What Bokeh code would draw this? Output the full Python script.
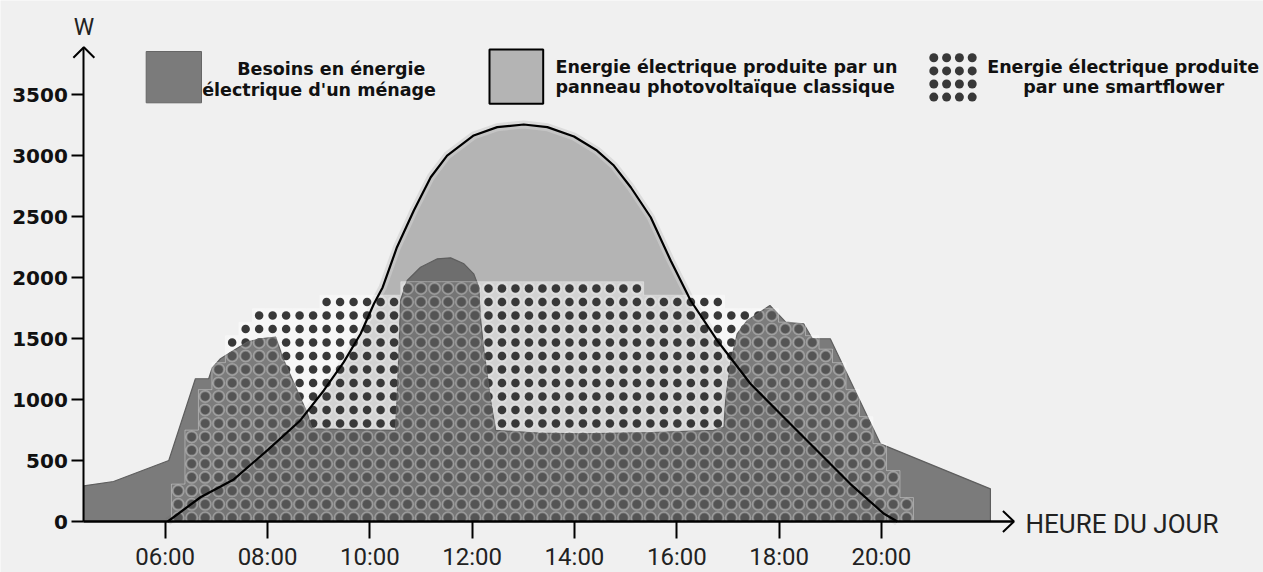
from bokeh.plotting import figure
from bokeh.models import Range1d, FixedTicker, Label
from bokeh.embed import file_html
from bokeh.resources import INLINE

# ---------------- data ----------------
# household electricity demand (hour of day, W)
demand_hour = [4.41, 4.99, 6.07, 6.59, 6.85, 6.92, 7.08, 7.28, 7.60, 7.86, 8.16, 8.32,
               8.58, 8.78, 8.87, 10.50, 10.53, 10.57, 10.60, 10.73, 10.99, 11.32, 11.58,
               11.84, 12.03, 12.13, 12.16, 12.23, 12.36, 12.46, 13.30, 14.12, 15.50, 16.72,
               16.92, 16.96, 17.06, 17.18, 17.38, 17.82, 18.13, 18.48, 18.65, 19.00, 19.98,
               22.13]
demand_watt = [293, 328, 500, 1171, 1171, 1261, 1335, 1389, 1471, 1499, 1512, 1321,
               1075, 884, 760, 747, 993, 1403, 1813, 1977, 2086, 2155, 2163,
               2114, 2032, 1922, 1676, 1403, 993, 747, 725, 719, 730, 747,
               774, 1020, 1321, 1540, 1649, 1772, 1635, 1622, 1499, 1499, 637,
               268]

# classic photovoltaic panel production (hour of day, W)
pv_hour = [6.05, 6.69, 7.34, 7.99, 8.64, 9.10, 9.49, 9.82, 10.08, 10.25, 10.53, 10.86,
           11.19, 11.51, 12.03, 12.49, 13.01, 13.47, 13.99, 14.44, 14.77, 15.10, 15.49,
           15.88, 16.27, 16.79, 17.44, 18.09, 18.74, 19.39, 20.05, 20.31]
pv_watt = [0, 199, 345, 582, 829, 1075, 1307, 1540, 1786, 1920, 2250, 2551,
           2824, 3002, 3167, 3235, 3257, 3235, 3158, 3043, 2920, 2742, 2496,
           2141, 1813, 1485, 1130, 856, 582, 309, 63, 0]

# smartflower production drawn as a dot matrix: number of dot rows per time slot
sf_first_slot_hour = 6.254
sf_slot_hours = 0.2637
sf_row_watts = 110.7
sf_first_row_watt = 30
sf_dot_rows = [3, 7, 10, 12, 14, 15, 16, 16, 16, 16, 16, 17, 17, 17, 17, 17, 17,
               18, 18, 18, 18, 18, 18, 18, 18, 18, 18, 18, 18, 18, 18, 18, 18, 18, 18,
               17, 17, 17, 17, 17, 17, 16, 16, 16, 16, 15, 15, 14, 13, 12, 10, 8, 6, 4, 2]

y_ticks = [0, 500, 1000, 1500, 2000, 2500, 3000, 3500]
y_tick_labels = ["0", "500", "1000", "1500", "2000", "2500", "3000", "3500"]
x_ticks = [6, 8, 10, 12, 14, 16, 18, 20]
x_tick_labels = ["06:00", "08:00", "10:00", "12:00", "14:00", "16:00", "18:00", "20:00"]

axis_start_hour = 4.41
axis_end_hour = 22.59
axis_top_watt = 3891

legend_demand = ["Besoins en énergie", "électrique d'un ménage"]
legend_pv = ["Energie électrique produite par un", "panneau photovoltaïque classique"]
legend_sf = ["Energie électrique produite", "par une smartflower"]
y_title = "W"
x_title = "HEURE DU JOUR"

# ---------------- layout helpers (page pixels -> data) ----------------
W_PX, H_PX = 1263, 572
PX_PER_H, H6_PX = 51.16, 164.7
PX_PER_W, W0_PY = 0.1219, 521.0


def hx(px):
    return 6 + (px - H6_PX) / PX_PER_H


def wy(py):
    return (W0_PY - py) / PX_PER_W


p = figure(width=W_PX, height=H_PX,
           x_range=Range1d(hx(0), hx(W_PX)),
           y_range=Range1d(wy(H_PX), wy(0)),
           output_backend="svg", toolbar_location=None, tools="",
           min_border=0, background_fill_color="#f0f0f0",
           border_fill_color="#f0f0f0", outline_line_color=None)
p.grid.visible = False

# PV area
p.patch(pv_hour, pv_watt, fill_color="#b4b4b4", line_color=None)
p.line(pv_hour, pv_watt, line_color="#cecece", line_width=8, line_alpha=0.6,
       line_join="round")

# smartflower region (staircase) + dots
half = sf_slot_hours / 2
st_x, st_y = [], []
dot_x, dot_y = [], []
for k, n in enumerate(sf_dot_rows):
    t = sf_first_slot_hour + k * sf_slot_hours
    top = sf_first_row_watt + (n - 1) * sf_row_watts + sf_row_watts / 2
    if k == 0:
        st_x.append(t - half)
        st_y.append(0)
    st_x += [t - half, t + half]
    st_y += [top, top]
    for j in range(n):
        dot_x.append(t)
        dot_y.append(sf_first_row_watt + j * sf_row_watts)
st_x.append(st_x[-1])
st_y.append(0)

p.patch(st_x, st_y, fill_color="white", fill_alpha=0.4, line_color=None)
p.scatter(dot_x, dot_y, size=8.5, fill_color="#383838", line_color=None)

# household demand
dx = [demand_hour[0]] + demand_hour + [demand_hour[-1]]
dy = [0] + demand_watt + [0]
p.patch(dx, dy, fill_color="#5b5b5b", fill_alpha=0.79, line_color="#5e5e5e",
        line_width=1.2)

# halos around dots, staircase edge
p.scatter(dot_x, dot_y, size=11.5, fill_color=None, line_color="white",
          line_alpha=0.28, line_width=1.5)
p.line(st_x, st_y, line_color="white", line_alpha=0.35, line_width=1)

# PV outline
p.line(pv_hour, pv_watt, line_color="black", line_width=2.2, line_join="round")

# ---------------- axes ----------------
p.xaxis.fixed_location = 0
p.yaxis.fixed_location = axis_start_hour
p.xaxis.bounds = (axis_start_hour, axis_end_hour)
p.yaxis.bounds = (0, axis_top_watt)
p.xaxis.ticker = FixedTicker(ticks=x_ticks)
p.yaxis.ticker = FixedTicker(ticks=y_ticks)
p.xaxis.major_label_overrides = dict(zip(x_ticks, x_tick_labels))
p.yaxis.major_label_overrides = dict(zip(y_ticks, y_tick_labels))
p.axis.minor_tick_line_color = None
p.axis.axis_line_color = "black"
p.xaxis.axis_line_width = 2.5
p.yaxis.axis_line_width = 2
p.axis.major_tick_line_color = "black"
p.axis.major_tick_line_width = 2
p.axis.major_tick_in = 0
p.xaxis.major_tick_out = 17
p.yaxis.major_tick_out = 12
p.xaxis.major_label_text_font = "Roboto"
p.xaxis.major_label_text_font_size = "24px"
p.xaxis.major_label_text_color = "#222222"
p.xaxis.major_label_standoff = 4
p.yaxis.major_label_text_font = "DejaVu Sans"
p.yaxis.major_label_text_font_style = "bold"
p.yaxis.major_label_text_font_size = "20px"
p.yaxis.major_label_text_color = "#111111"
p.yaxis.major_label_standoff = 4

# arrow heads
ah = 10.5 / PX_PER_H
aw = 10.6 / PX_PER_W
p.multi_line(
    [[axis_start_hour - ah, axis_start_hour, axis_start_hour + ah],
     [axis_end_hour - 11 / PX_PER_H, axis_end_hour, axis_end_hour - 11 / PX_PER_H]],
    [[axis_top_watt - aw, axis_top_watt, axis_top_watt - aw],
     [10.5 / PX_PER_W, 0, -10.5 / PX_PER_W]],
    line_color="black", line_width=2)

TXT_SHIFT = 8  # labels render a little lower than their baseline

p.add_layout(Label(x=axis_start_hour, y=wy(35 - TXT_SHIFT), text=y_title,
                   text_align="center", text_baseline="alphabetic", text_font="Roboto",
                   text_font_size="23px", text_color="#222222"))
p.add_layout(Label(x=hx(1025), y=wy(531.7 - TXT_SHIFT), text=x_title, text_align="left",
                   text_baseline="alphabetic", text_font="Roboto",
                   text_font_size="26px", text_color="#222222"))

# ---------------- legend ----------------
p.quad(left=hx(145.7), right=hx(201), top=wy(51), bottom=wy(102.3),
       fill_color="#7b7b7b", line_color="#666666", line_width=1)
p.quad(left=hx(489), right=hx(542.7), top=wy(49), bottom=wy(103.3),
       fill_color="#b4b4b4", line_color="black", line_width=2)
lx, ly = [], []
for i in range(4):
    for j in range(4):
        lx.append(hx(933.3 + 12.8 * i))
        ly.append(wy(57.3 + 13.1 * j))
p.scatter(lx, ly, size=9, fill_color="#383838", line_color=None)

legend_pos = [
    (legend_demand, [(236.7, 76.5), (201.7, 97.0)]),
    (legend_pv, [(555.0, 74.0), (555.0, 94.3)]),
    (legend_sf, [(986.7, 74.0), (1022.7, 94.3)]),
]
for texts, poss in legend_pos:
    for t, (px, py) in zip(texts, poss):
        p.add_layout(Label(x=hx(px), y=wy(py - TXT_SHIFT), text=t, text_align="left",
                           text_baseline="alphabetic", text_font="DejaVu Sans",
                           text_font_style="bold", text_font_size="17.5px",
                           text_color="#111111"))

open("out.html", "w").write(file_html(p, INLINE))
